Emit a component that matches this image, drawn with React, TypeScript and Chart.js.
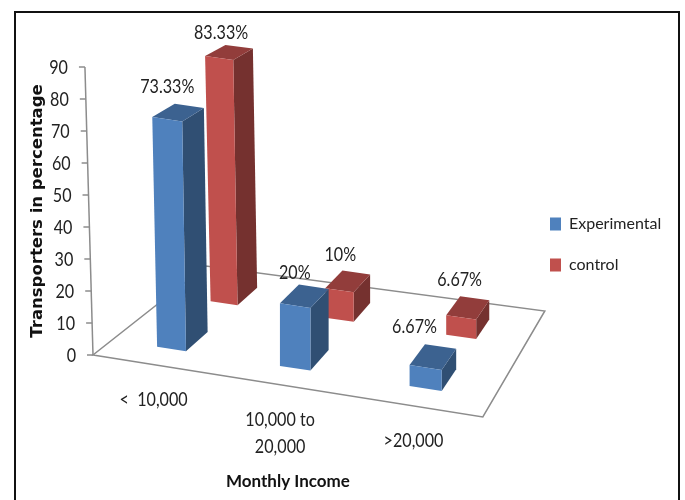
import React, { useEffect, useRef } from "react";
import { Chart, registerables } from "chart.js";

Chart.register(...registerables);

const categories: (string | string[])[] = ["<  10,000", ["10,000 to", "20,000"], ">20,000"];
const experimental = [73.33, 20, 6.67];
const control = [83.33, 10, 6.67];
const yTicksMax = 90;
const yTickStep = 10;

const BLUE = "#4F81BD";
const RED = "#C0504D";
const TEXT = "#222222";
const AXIS = "#8C8C8C";
const LABEL_FONT = "19px Lato";
const LABEL_SQUEEZE = 0.85;

// Depth band of each series on the floor plane (0 = front edge, 1 = back edge).
const depthBands = [
  [0.17, 0.38],
  [0.67, 0.86],
];
// Hand placement of the value labels relative to the back of each bar's top face.
const labelNudges = [
  [[-22, -19], [-19, -14], [-26, -20]],
  [[-18, -14], [-16, -18], [-15, -18]],
];

function shade(hex: string, k: number) {
  const n = parseInt(hex.slice(1), 16);
  const c = (v: number) => Math.round(v * k);
  return `rgb(${c((n >> 16) & 255)},${c((n >> 8) & 255)},${c(n & 255)})`;
}

// Projects a position on the category axis (t in 0..1), a floor depth and a
// pixel height from the y scale into the tilted view.
function makeProjector(area: { left: number; right: number; bottom: number }) {
  const { left, right, bottom } = area;
  const A = [left, bottom];
  const B = [right, bottom + 62];
  const C = [right + 62, bottom - 44];
  const D = [left + 113, bottom - 89];
  return (t: number, w: number, h: number) => {
    const u = t - 0.08 * t * (1 - t);
    const fx = (1 - w) * ((1 - u) * A[0] + u * B[0]) + w * ((1 - u) * D[0] + u * C[0]);
    const fy = (1 - w) * ((1 - u) * A[1] + u * B[1]) + w * ((1 - u) * D[1] + u * C[1]);
    const lean = 0.028 * Math.max(0, 1 - u / 0.45);
    return [fx - h * lean, fy - h * (1 - 0.12 * w)];
  };
}

function poly(ctx: CanvasRenderingContext2D, pts: number[][], fill: string) {
  ctx.beginPath();
  pts.forEach((p, i) => (i ? ctx.lineTo(p[0], p[1]) : ctx.moveTo(p[0], p[1])));
  ctx.closePath();
  ctx.fillStyle = fill;
  ctx.fill();
}

// Draws a label in a slightly condensed cut of the font.
function squeezedText(ctx: CanvasRenderingContext2D, text: string, x: number, y: number) {
  ctx.save();
  ctx.translate(x, y);
  ctx.scale(LABEL_SQUEEZE, 1);
  ctx.fillText(text, 0, 0);
  ctx.restore();
}

const view3d = {
  id: "view3d",
  afterLayout(chart: any) {
    // The legend sits beside the floor's far corner, clear of the plot box.
    const lg = chart.legend;
    const w = lg.width;
    const h = lg.height;
    lg.left = 525;
    lg.right = 525 + w;
    lg.top = 191;
    lg.bottom = 191 + h;
  },
  beforeDraw(chart: any) {
    const { ctx } = chart;
    ctx.save();
    ctx.strokeStyle = "#111111";
    ctx.lineWidth = 2;
    ctx.beginPath();
    ctx.moveTo(15, 500);
    ctx.lineTo(15, 12);
    ctx.lineTo(679, 12);
    ctx.lineTo(679, 500);
    ctx.stroke();
    ctx.restore();
  },
  beforeDatasetsDraw(chart: any) {
    const { ctx, chartArea, scales } = chart;
    const project = makeProjector(chartArea);
    const top = chartArea.bottom - scales.y.getPixelForValue(yTicksMax);

    ctx.save();
    ctx.strokeStyle = AXIS;
    ctx.lineWidth = 1.5;
    const corners = [project(0, 0, 0), project(1, 0, 0), project(1, 1, 0), project(0, 1, 0)];
    ctx.beginPath();
    corners.forEach((p, i) => (i ? ctx.lineTo(p[0], p[1]) : ctx.moveTo(p[0], p[1])));
    ctx.closePath();
    ctx.stroke();

    const axisTop = project(0, 0, top);
    ctx.beginPath();
    ctx.moveTo(corners[0][0], corners[0][1]);
    ctx.lineTo(axisTop[0], axisTop[1]);
    ctx.stroke();

    ctx.font = LABEL_FONT;
    ctx.fillStyle = TEXT;
    ctx.textAlign = "right";
    ctx.textBaseline = "middle";
    scales.y.ticks.forEach((tick: any) => {
      const h = chartArea.bottom - scales.y.getPixelForValue(tick.value);
      const p = project(0, 0, h);
      ctx.beginPath();
      ctx.moveTo(p[0], p[1]);
      ctx.lineTo(p[0] - 6, p[1]);
      ctx.stroke();
      squeezedText(ctx, String(tick.label), p[0] - 17, p[1] + 1);
    });

    // Category labels hang below the front edge of the floor.
    ctx.textAlign = "center";
    chart.data.labels.forEach((label: string | string[], i: number) => {
      const t = (scales.x.getPixelForValue(i) - chartArea.left) / chartArea.width;
      const p = project(t, 0, 0);
      const lines = Array.isArray(label) ? label : [label];
      lines.forEach((line, j) => squeezedText(ctx, line, p[0], p[1] + 35 + j * 27));
    });
    ctx.restore();
  },
  beforeDatasetDraw(chart: any, args: any) {
    const { ctx, chartArea } = chart;
    const project = makeProjector(chartArea);
    const [w0, w1] = depthBands[args.index];
    const color = chart.data.datasets[args.index].backgroundColor;
    args.meta.data.forEach((bar: any) => {
      const h = bar.base - bar.y;
      const t0 = (bar.x - bar.width / 2 - chartArea.left) / chartArea.width;
      const t1 = (bar.x + bar.width / 2 - chartArea.left) / chartArea.width;
      const fbl = project(t0, w0, 0);
      const fbr = project(t1, w0, 0);
      const ftl = project(t0, w0, h);
      const ftr = project(t1, w0, h);
      const bbr = project(t1, w1, 0);
      const btl = project(t0, w1, h);
      const btr = project(t1, w1, h);
      poly(ctx, [fbr, bbr, btr, ftr], shade(color, 0.61));
      poly(ctx, [ftl, ftr, btr, btl], shade(color, 0.76));
      poly(ctx, [fbl, fbr, ftr, ftl], color);
    });
    return false;
  },
  afterDatasetsDraw(chart: any) {
    const { ctx, chartArea } = chart;
    const project = makeProjector(chartArea);
    ctx.save();
    ctx.font = LABEL_FONT;
    ctx.fillStyle = TEXT;
    ctx.textAlign = "center";
    ctx.textBaseline = "middle";
    chart.data.datasets.forEach((ds: any, di: number) => {
      chart.getDatasetMeta(di).data.forEach((bar: any, i: number) => {
        const h = bar.base - bar.y;
        const t = (bar.x - chartArea.left) / chartArea.width;
        const p = project(t, depthBands[di][1], h);
        const [nx, ny] = labelNudges[di][i];
        squeezedText(ctx, `${ds.data[i]}%`, p[0] + nx, p[1] + ny);
      });
    });
    ctx.restore();
  },
};

export default function App() {
  const ref = useRef<HTMLCanvasElement>(null);
  useEffect(() => {
    const chart = new Chart(ref.current as HTMLCanvasElement, {
      type: "bar",
      data: {
        labels: categories as any,
        datasets: [
          { label: "Experimental", data: experimental, backgroundColor: BLUE },
          { label: "control", data: control, backgroundColor: RED },
        ],
      },
      options: {
        responsive: false,
        animation: false,
        events: [],
        grouped: false,
        categoryPercentage: 1,
        barPercentage: 0.24,
        layout: { padding: { left: 28, top: 67, right: 56, bottom: 0 } },
        plugins: {
          tooltip: { enabled: false },
          legend: {
            position: "right",
            align: "start",
            labels: {
              boxWidth: 11,
              boxHeight: 13,
              padding: 25,
              color: TEXT,
              font: { family: "Lato", size: 16 },
            },
          },
        },
        scales: {
          x: {
            grid: { display: false },
            border: { display: false },
            ticks: { display: false },
            title: {
              display: true,
              text: "Monthly Income",
              color: "#111111",
              font: { family: "Lato", size: 17, weight: "bold" },
              padding: { top: 0, bottom: 8 },
            },
            afterFit(scale: any) {
              scale.height = 145;
            },
          },
          y: {
            min: 0,
            max: yTicksMax,
            grid: { display: false },
            border: { display: false },
            ticks: { display: false, stepSize: yTickStep },
            title: {
              display: true,
              text: "Transporters in percentage",
              color: "#111111",
              font: { family: "DejaVu Sans", size: 16.5, weight: "bold" },
              padding: 0,
            },
            afterFit(scale: any) {
              scale.width = 65;
            },
          },
        },
      } as any,
      plugins: [view3d as any],
    });
    return () => chart.destroy();
  }, []);
  return (
    <canvas
      ref={ref}
      width={685}
      height={500}
      style={{ position: "absolute", left: 0, top: 0, display: "block" }}
    />
  );
}
